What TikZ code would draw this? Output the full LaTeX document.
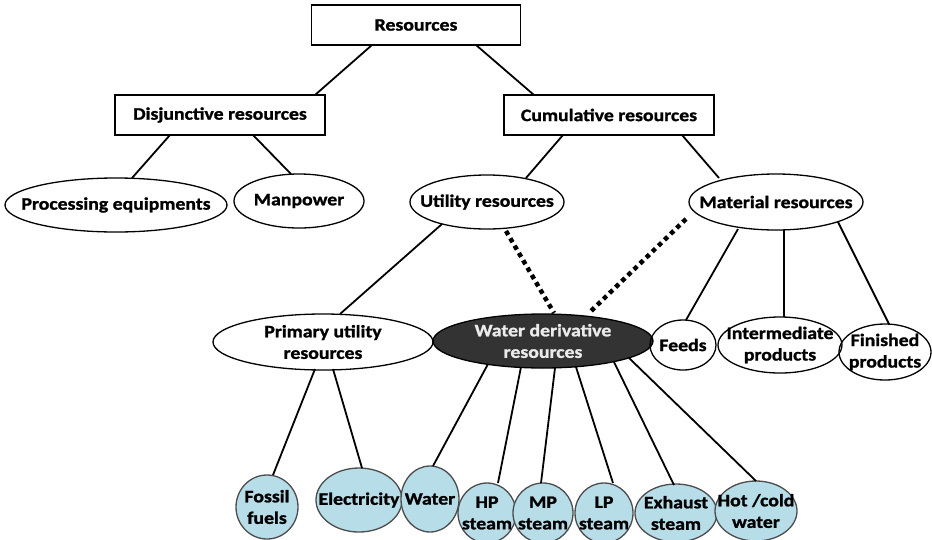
\documentclass[tikz,border=0pt]{standalone}
\usepackage{fontspec}
\setmainfont{Carlito}[FakeStretch=1.13, BoldFeatures={FakeBold=1.3}]
\usetikzlibrary{shapes.geometric,calc}
\definecolor{lblue}{HTML}{B7DDE8}
\definecolor{dk}{HTML}{333333}
\begin{document}
\begin{tikzpicture}[x=1pt,y=-1pt,
  font=\fontsize{17.5}{21.5}\selectfont\bfseries,
  rbox/.style={draw, line width=1.6pt, inner sep=0pt, minimum height=40pt},
  ell/.style={ellipse, draw, line width=1.3pt, inner sep=0pt},
  blu/.style={ell, fill=lblue, draw=black!70},
  dark/.style={ell, fill=dk, draw=black},
  lbl/.style={align=center, inner sep=0pt},
  conn/.style={line width=1.8pt},
  dots/.style={line width=4.5pt, dash pattern=on 4.5pt off 4pt}]
\useasboundingbox (0,0) rectangle (932,539);

% boxes
\node[rbox, minimum width=209pt] (res) at (416,25) {Resources};
\node[rbox, minimum width=210pt] (dis) at (220,115) {Disjunctive resources};
\node[rbox, minimum width=210pt] (cum) at (609,115) {Cumulative resources};

% white ellipses
\node[ell, minimum width=222pt, minimum height=54pt, label={[lbl]center:Processing equipments}] (proc) at (116,205) {};
\node[ell, minimum width=130pt, minimum height=54pt, label={[lbl]center:Manpower}] (man) at (299,201) {};
\node[ell, minimum width=154pt, minimum height=54pt, label={[lbl]center:Utility resources}] (util) at (487,202) {};
\node[ell, minimum width=174pt, minimum height=56pt, label={[lbl]center:Material resources}] (mat) at (776,202) {};
\node[ell, minimum width=220pt, minimum height=56pt, label={[lbl]center:Primary utility\\resources}] (prim) at (323,342) {};
\node[dark, minimum width=220pt, minimum height=54pt, label={[lbl,text=white!92!black]center:Water derivative\\resources}] (wdr) at (543,341) {};
\node[ell, minimum width=66pt, minimum height=50pt, label={[lbl]center:Feeds}] (feeds) at (683,345) {};
\node[ell, minimum width=124pt, minimum height=56pt, label={[lbl]center:Intermediate\\products}] (inter) at (780,345) {};
\node[ell, minimum width=92pt, minimum height=56pt, label={[lbl]center:Finished\\products}] (fin) at (885,352) {};

% blue ellipses
\node[blu, minimum width=62pt, minimum height=64pt, label={[lbl]center:Fossil\\fuels}] (fossil) at (267,507) {};
\node[blu, minimum width=86pt, minimum height=64pt, label={[lbl]center:Electricity}] (elec) at (359,500) {};
\node[blu, minimum width=58pt, minimum height=66pt, label={[lbl]center:Water}] (water) at (430,499) {};
\node[blu, minimum width=58pt, minimum height=60pt, label={[lbl]center:HP\\steam}] (hp) at (487,513) {};
\node[blu, minimum width=60pt, minimum height=60pt, label={[lbl]center:MP\\steam}] (mp) at (543,513) {};
\node[blu, minimum width=58pt, minimum height=60pt, label={[lbl]center:LP\\steam}] (lp) at (604,513) {};
\node[blu, minimum width=82pt, minimum height=58pt, label={[lbl]center:Exhaust\\steam}] (exh) at (676,513) {};
\node[blu, minimum width=82pt, minimum height=60pt, label={[lbl]center:Hot /cold\\water}] (hot) at (756,511) {};

% connectors
\draw[conn] ($(res)+(-44,20)$) -- ($(dis)+(95,-20)$);
\draw[conn] ($(res)+(60,20)$) -- ($(cum)+(-75,-20)$);
\draw[conn] ($(dis)+(-50,20)$) -- ($(proc)+(16,-27)$);
\draw[conn] ($(dis)+(33,20)$) -- ($(man)+(-8,-27)$);
\draw[conn] ($(cum)+(-46,20)$) -- ($(util)+(39,-24)$);
\draw[conn] ($(cum)+(73,20)$) -- ($(mat)+(-57,-24)$);
\draw[conn] ($(util)+(-45,22)$) -- ($(prim)+(17,-28)$);
\draw[dots] ($(util)+(19,29)$) -- ($(wdr)+(11,-28)$);
\draw[dots] ($(mat)+(-90,17)$) -- ($(wdr)+(46,-28)$);
\draw[conn] ($(mat)+(-38,27)$) -- ($(feeds)+(3,-25)$);
\draw[conn] ($(mat)+(8,28)$) -- ($(inter)+(4,-28)$);
\draw[conn] ($(mat)+(62,20)$) -- ($(fin)+(4,-28)$);
\draw[conn] ($(prim)+(-8,27)$) -- ($(fossil)+(6,-32)$);
\draw[conn] ($(prim)+(10,27)$) -- ($(elec)+(3,-32)$);
\draw[conn] ($(wdr)+(-55,23)$) -- ($(water)+(3,-33)$);
\draw[conn] ($(wdr)+(-22,26)$) -- ($(hp)+(11,-30)$);
\draw[conn] ($(wdr)+(12,27)$) -- ($(mp)+(-2,-30)$);
\draw[conn] ($(wdr)+(33,26)$) -- ($(lp)+(9,-30)$);
\draw[conn] ($(wdr)+(71,21)$) -- ($(exh)+(-2,-28)$);
\draw[conn] ($(wdr)+(86,17)$) -- ($(hot)+(0,-30)$);
\end{tikzpicture}
\end{document}
